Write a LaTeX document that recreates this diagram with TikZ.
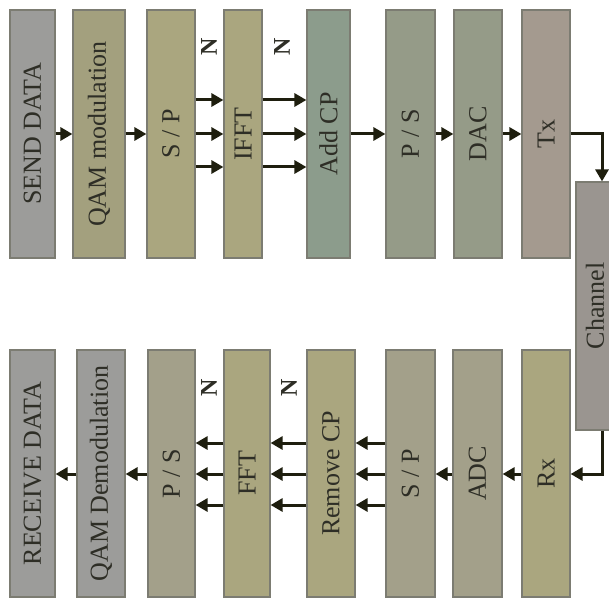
\documentclass[tikz,border=0pt]{standalone}
\usepackage{fontspec}
\setmainfont{Liberation Serif}
\usetikzlibrary{arrows.meta}
\definecolor{cgray}{HTML}{9C9C9A}
\definecolor{colive}{HTML}{AAA67F}
\definecolor{cqam}{HTML}{A3A07E}
\definecolor{cteal}{HTML}{8C9C8C}
\definecolor{cmix}{HTML}{959B88}
\definecolor{cpink}{HTML}{A49A8F}
\definecolor{cchan}{HTML}{9A9590}
\definecolor{cmixb}{HTML}{A3A08A}
\definecolor{cborder}{HTML}{7C7C72}
\definecolor{ctext}{HTML}{2E2E26}
\definecolor{carrow}{HTML}{1E1E0E}
\begin{document}
\begin{tikzpicture}[x=1pt,y=-1pt,
  blk/.style={draw=cborder, line width=1.2pt, inner sep=0pt, text=ctext,
    font=\fontsize{26}{30}\selectfont},
  nlabel/.style={text=ctext, font=\fontsize{24}{28}\selectfont\bfseries, inner sep=0pt},
  arr/.style={draw=carrow, line width=3pt, -{Triangle[length=12pt,width=13pt]}}]
\useasboundingbox (0,0) rectangle (609,601);
\fill[white] (0,0) rectangle (609,601);
% top row
\node[blk, fill=cgray,  minimum width=45, minimum height=248] (send)  at (32.5,134) {\rotatebox{90}{SEND DATA}};
\node[blk, fill=cqam,   minimum width=52, minimum height=248] (qam)   at (99,134)   {\rotatebox{90}{QAM modulation}};
\node[blk, fill=colive, minimum width=48, minimum height=248] (sp1)   at (171,134)  {\rotatebox{90}{S / P}};
\node[blk, fill=colive, minimum width=38, minimum height=248] (ifft)  at (243,134)  {\rotatebox{90}{IFFT}};
\node[blk, fill=cteal,  minimum width=43, minimum height=248] (addcp) at (328.5,134){\rotatebox{90}{Add CP}};
\node[blk, fill=cmix,   minimum width=49, minimum height=248] (ps1)   at (410.5,134){\rotatebox{90}{P / S}};
\node[blk, fill=cmix,   minimum width=48, minimum height=248] (dac)   at (478,134)  {\rotatebox{90}{DAC}};
\node[blk, fill=cpink,  minimum width=48, minimum height=248] (tx)    at (546,134)  {\rotatebox{90}{Tx}};
\node[blk, fill=cchan,  minimum width=38, minimum height=248] (chan)  at (595,306)  {\rotatebox{90}{Channel}};
% bottom row
\node[blk, fill=cgray,  minimum width=45, minimum height=247] (recv)  at (32.5,473.5) {\rotatebox{90}{RECEIVE DATA}};
\node[blk, fill=cgray,  minimum width=48, minimum height=247] (qamd)  at (101,473.5)  {\rotatebox{90}{QAM Demodulation}};
\node[blk, fill=cmixb,  minimum width=47, minimum height=247] (ps2)   at (171.5,473.5){\rotatebox{90}{P / S}};
\node[blk, fill=colive, minimum width=46, minimum height=247] (fft)   at (247,473.5)  {\rotatebox{90}{FFT}};
\node[blk, fill=colive, minimum width=48, minimum height=247] (rcp)   at (331,473.5)  {\rotatebox{90}{Remove CP}};
\node[blk, fill=cmixb,  minimum width=49, minimum height=247] (sp2)   at (410.5,473.5){\rotatebox{90}{S / P}};
\node[blk, fill=cmixb,  minimum width=49, minimum height=247] (adc)   at (477.5,473.5){\rotatebox{90}{ADC}};
\node[blk, fill=colive, minimum width=48, minimum height=247] (rx)    at (546,473.5)  {\rotatebox{90}{Rx}};
% N labels
\node[nlabel] (n1) at (209,47)  {\rotatebox{90}{N}};
\node[nlabel] (n2) at (282,47)  {\rotatebox{90}{N}};
\node[nlabel] (n3) at (209,388) {\rotatebox{90}{N}};
\node[nlabel] (n4) at (289,388) {\rotatebox{90}{N}};
% top connectors
\draw[arr] (send.east) -- (qam.west);
\draw[arr] (qam.east) -- (sp1.west);
\foreach \yy in {100,134,167} {
  \draw[arr] (sp1.east |- 0,\yy) -- (ifft.west |- 0,\yy);
  \draw[arr] (ifft.east |- 0,\yy) -- (addcp.west |- 0,\yy);
}
\draw[arr] (addcp.east) -- (ps1.west);
\draw[arr] (ps1.east) -- (dac.west);
\draw[arr] (dac.east) -- (tx.west);
\draw[arr] (tx.east) -- (602,134) -- (chan.north -| 602,0);
% bottom connectors
\draw[arr] (chan.south -| 602,0) -- (602,474) -- (rx.east |- 0,474);
\draw[arr] (rx.west |- 0,474) -- (adc.east |- 0,474);
\draw[arr] (adc.west |- 0,474) -- (sp2.east |- 0,474);
\foreach \yy in {443,474,505} {
  \draw[arr] (sp2.west |- 0,\yy) -- (rcp.east |- 0,\yy);
  \draw[arr] (rcp.west |- 0,\yy) -- (fft.east |- 0,\yy);
  \draw[arr] (fft.west |- 0,\yy) -- (ps2.east |- 0,\yy);
}
\draw[arr] (ps2.west |- 0,474) -- (qamd.east |- 0,474);
\draw[arr] (qamd.west |- 0,474) -- (recv.east |- 0,474);
\end{tikzpicture}
\end{document}
